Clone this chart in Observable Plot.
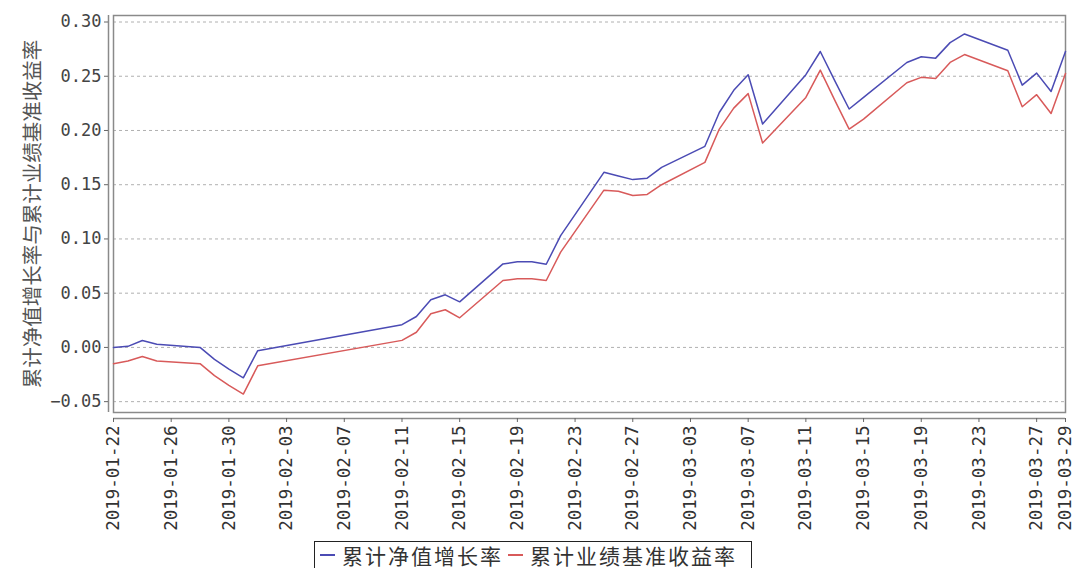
<!DOCTYPE html>
<html>
<head>
<meta charset="utf-8">
<script src="https://cdn.jsdelivr.net/npm/d3@7"></script>
<script src="https://cdn.jsdelivr.net/npm/@observablehq/plot@0.6"></script>
<style>
  html, body { margin: 0; padding: 0; background: #fff; overflow: hidden; }
  #chart svg { display: block; }
  #legend {
    margin-left: 314px; margin-top: 1px; width: 438px; height: 27px;
    border: 1px solid #222; border-bottom: none; box-sizing: border-box;
    font-family: "Noto Sans CJK SC", sans-serif; font-size: 21px; line-height: 24px; color: #333;
    letter-spacing: 2px;
    display: flex; align-items: center; padding-left: 4px; white-space: nowrap;
  }
  #legend .dash { display: inline-block; width: 15px; height: 0; border-top: 2px solid; margin: 0 7px 0 1px; }
</style>
</head>
<body>
<div id="chart"></div>
<div id="legend">
  <span class="dash" style="border-color:#4b4bb4"></span><span>累计净值增长率</span>
  <span class="dash" style="border-color:#d85a5a; margin-left:5px"></span><span>累计业绩基准收益率</span>
</div>
<script>
const dates = ["2019-01-22","2019-01-23","2019-01-24","2019-01-25","2019-01-28","2019-01-29","2019-01-30","2019-01-31","2019-02-01","2019-02-11","2019-02-12","2019-02-13","2019-02-14","2019-02-15","2019-02-18","2019-02-19","2019-02-20","2019-02-21","2019-02-22","2019-02-25","2019-02-26","2019-02-27","2019-02-28","2019-03-01","2019-03-04","2019-03-05","2019-03-06","2019-03-07","2019-03-08","2019-03-11","2019-03-12","2019-03-13","2019-03-14","2019-03-15","2019-03-18","2019-03-19","2019-03-20","2019-03-21","2019-03-22","2019-03-25","2019-03-26","2019-03-27","2019-03-28","2019-03-29"];
const navGrowth = [0.000, 0.001, 0.0064, 0.003, 0.000, -0.011, -0.020, -0.028, -0.003, 0.021, 0.0285, 0.044, 0.0485, 0.042, 0.077, 0.0789, 0.079, 0.0767, 0.103, 0.1614, 0.158, 0.1547, 0.156, 0.166, 0.1854, 0.2166, 0.237, 0.2514, 0.206, 0.2514, 0.2728, 0.246, 0.2198, 0.2305, 0.2627, 0.268, 0.2667, 0.281, 0.289, 0.274, 0.2418, 0.2529, 0.236, 0.2728];
const benchmark = [-0.015, -0.0126, -0.0083, -0.0126, -0.015, -0.026, -0.035, -0.043, -0.017, 0.0065, 0.014, 0.031, 0.0347, 0.0273, 0.0617, 0.0632, 0.0632, 0.0617, 0.0878, 0.145, 0.144, 0.140, 0.141, 0.150, 0.1706, 0.2013, 0.2206, 0.234, 0.1884, 0.2305, 0.2557, 0.228, 0.2013, 0.2105, 0.244, 0.249, 0.248, 0.2627, 0.270, 0.255, 0.2219, 0.233, 0.2157, 0.2525];
const seriesNames = ["累计净值增长率", "累计业绩基准收益率"];
const seriesColors = ["#4b4bb4", "#d85a5a"];
const xTickLabels = ["2019-01-22","2019-01-26","2019-01-30","2019-02-03","2019-02-07","2019-02-11","2019-02-15","2019-02-19","2019-02-23","2019-02-27","2019-03-03","2019-03-07","2019-03-11","2019-03-15","2019-03-19","2019-03-23","2019-03-27","2019-03-29"];
const yTicks = [-0.05, 0.00, 0.05, 0.10, 0.15, 0.20, 0.25, 0.30];
const yLabel = "累计净值增长率与累计业绩基准收益率";

const parse = d3.utcParse("%Y-%m-%d");
const xStart = parse("2019-01-22"), xEnd = parse("2019-03-29");
const rows = [];
dates.forEach((d, i) => {
  rows.push({date: parse(d), value: navGrowth[i], series: seriesNames[0]});
});
dates.forEach((d, i) => {
  rows.push({date: parse(d), value: benchmark[i], series: seriesNames[1]});
});
const xTicks = xTickLabels.map(parse);

const chart = Plot.plot({
  width: 1075,
  height: 540,
  marginLeft: 113,
  marginRight: 10,
  marginTop: 15,
  marginBottom: 128,
  x: {type: "utc", domain: [xStart, xEnd]},
  y: {domain: [-0.06, 0.306]},
  color: {domain: seriesNames, range: seriesColors},
  marks: [
    Plot.gridY(yTicks, {stroke: "#b0b0b0", strokeOpacity: 1, strokeDasharray: "3,3"}),
    Plot.frame({stroke: "#8a8a8a", strokeWidth: 1.5}),
    Plot.ruleX([xStart], {dx: -5, stroke: "#8a8a8a", strokeWidth: 1.5}),
    Plot.ruleY([-0.06], {dy: 6, stroke: "#8a8a8a", strokeWidth: 1.5}),
    Plot.axisY(yTicks, {
      tickSize: 4, dx: -5, tickPadding: 3, stroke: "#666",
      tickFormat: d3.format(".2f"), label: null,
      fontFamily: "DejaVu Sans Mono", fontSize: 17, fill: "#444",
      letterSpacing: "2px"
    }),
    Plot.axisX(xTicks, {
      tickSize: 4, dy: 6, tickPadding: 3, stroke: "#666",
      tickRotate: -90, tickFormat: d3.utcFormat("%Y-%m-%d"), label: null,
      fontFamily: "DejaVu Sans Mono", fontSize: 17.5, fill: "#333"
    }),
    Plot.text([yLabel], {
      text: d => d, frameAnchor: "left", textAnchor: "middle", dx: -80, rotate: -90,
      fontSize: 20.5, fill: "#555", fontFamily: "Noto Sans CJK SC"
    }),
    Plot.line(rows, {x: "date", y: "value", z: "series", stroke: "series", strokeWidth: 1.5})
  ]
});
document.getElementById("chart").appendChild(chart);
</script>
</body>
</html>
